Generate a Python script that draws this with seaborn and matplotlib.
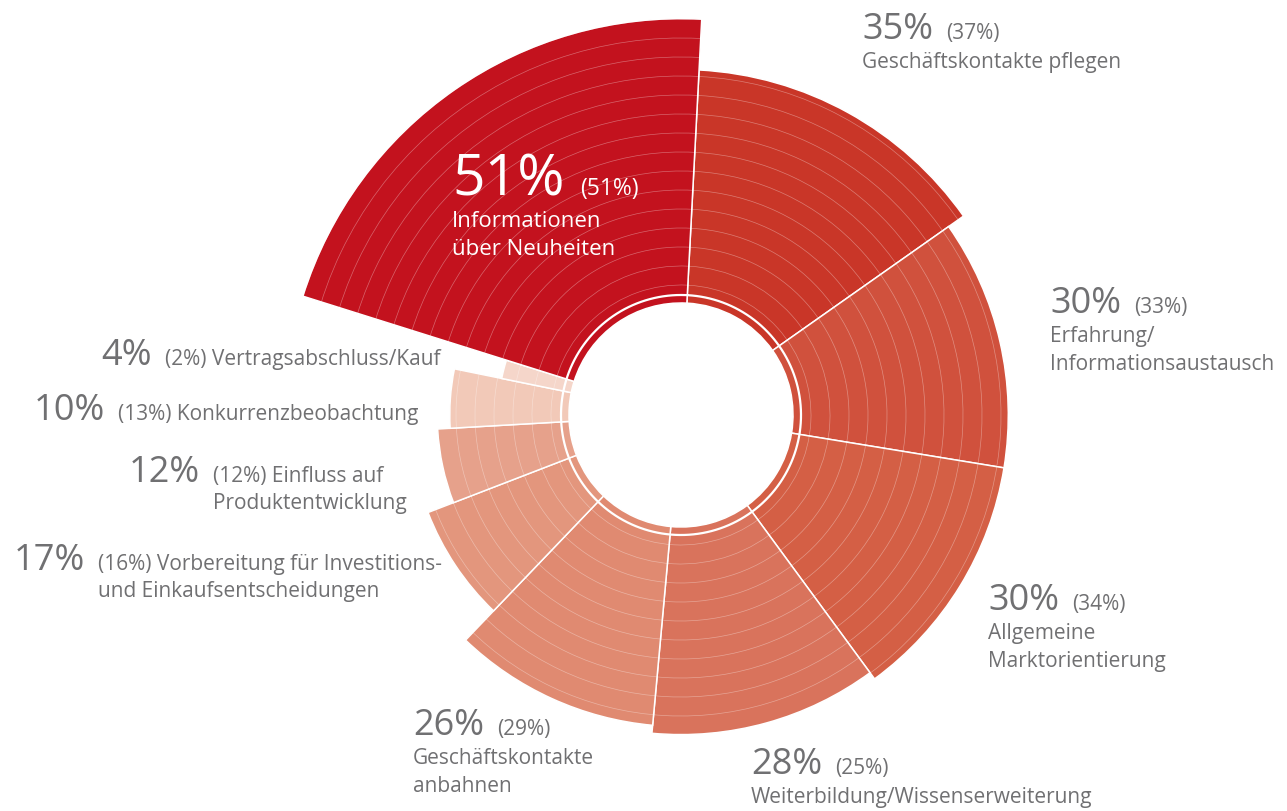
import numpy as np
import pandas as pd
import matplotlib
matplotlib.use("Agg")
import matplotlib.pyplot as plt
import seaborn as sns

# ----------------------------------------------------------------------------
# Data: Ziele des Messebesuchs, share this year and (previous year)
# order = clockwise starting at 12 o'clock
# ----------------------------------------------------------------------------
labels = [
    "Geschäftskontakte pflegen",
    "Erfahrung/\nInformationsaustausch",
    "Allgemeine\nMarktorientierung",
    "Weiterbildung/Wissenserweiterung",
    "Geschäftskontakte\nanbahnen",
    "Vorbereitung für Investitions-\nund Einkaufsentscheidungen",
    "Einfluss auf\nProduktentwicklung",
    "Konkurrenzbeobachtung",
    "Vertragsabschluss/Kauf",
    "Informationen\nüber Neuheiten",
]
share = [35, 30, 30, 28, 26, 17, 12, 10, 4, 51]
prev = [37, 33, 34, 25, 29, 16, 12, 13, 2, 51]

colors = ["#C93628", "#D0513D", "#D45F45", "#D9735C", "#E08A71",
          "#E3967D", "#E6A18B", "#F2C9B8", "#F5D6CA", "#C3121E"]

# label placement (pixels): side, x, baseline y
layout = [
    ("right", 862, 39),
    ("right", 1050, 313),
    ("right", 988, 610),
    ("right", 751, 774),
    ("right", 413, 735),
    ("left", 98, 570),
    ("left", 213, 482),
    ("left", 118, 420),
    ("left", 165, 365),
    ("inside", 452, 195),
]

W, H = 1287, 812
CX, CY = 681, 416          # centre of the rose
RMAX = 420
R_HOLE = 112
GREY = "#707072"

sns.set_theme(style="white")
plt.rcParams["font.family"] = ["Open Sans", "DejaVu Sans"]

df = pd.DataFrame({"label": labels, "share": share, "prev": prev})
df["width"] = df["share"] / df["share"].sum() * 2 * np.pi
df["theta"] = df["width"].cumsum() - df["width"]
df["radius"] = 100 + 41.5 * np.sqrt(df["share"])

fig = plt.figure(figsize=(W / 100, H / 100), dpi=100)
ax = fig.add_axes([(CX - RMAX) / W, (H - CY - RMAX) / H, 2 * RMAX / W, 2 * RMAX / H],
                  projection="polar")
ax.set_theta_direction(-1)
ax.set_theta_offset(np.deg2rad(87))
ax.set_ylim(0, RMAX)

ax.bar(df["theta"], df["radius"] - R_HOLE, width=df["width"], bottom=R_HOLE,
       align="edge", color=colors, edgecolor="white", linewidth=1.1)

# thin rings inside the sectors
ax.set_yticks(np.arange(130, 400, 19))
ax.set_yticklabels([])
ax.set_xticks([])
ax.yaxis.grid(True, color="white", linewidth=0.5, alpha=0.35)
ax.set_axisbelow(False)
circ = np.linspace(0, 2 * np.pi, 500)
ax.plot(circ, np.full_like(circ, 120), color="white", linewidth=1.6, zorder=3)
ax.spines["polar"].set_visible(False)


def px(x, y):
    return x / W, 1 - y / H


fig.canvas.draw()
renderer = fig.canvas.get_renderer()
LINE = 28

for row, (side, x, y) in zip(df.itertuples(), layout):
    lines = row.label.split("\n")
    if side == "left":
        fig.text(*px(x - 13, y), f"{row.share}%", fontsize=26, color=GREY,
                 ha="right", va="baseline")
        fig.text(*px(x, y), f"({row.prev}%) {lines[0]}", fontsize=15, color=GREY,
                 va="baseline")
        for k, ln in enumerate(lines[1:], 1):
            fig.text(*px(x, y + 27 * k), ln, fontsize=15, color=GREY, va="baseline")
        continue
    inside = side == "inside"
    col = "white" if inside else GREY
    big = fig.text(*px(x, y), f"{row.share}%", fontsize=41 if inside else 26,
                   color=col, va="baseline")
    bb = big.get_window_extent(renderer)
    fig.text(bb.x1 / W + (16 if inside else 13) / W, 1 - y / H, f"({row.prev}%)",
             fontsize=16.5 if inside else 15, color=col, va="baseline")
    for k, ln in enumerate(lines):
        fig.text(*px(x, y + 29 + LINE * k + (3 if inside else 0)), ln,
                 fontsize=16 if inside else 15, color=col, va="baseline")

fig.savefig("out.png", dpi=100)
